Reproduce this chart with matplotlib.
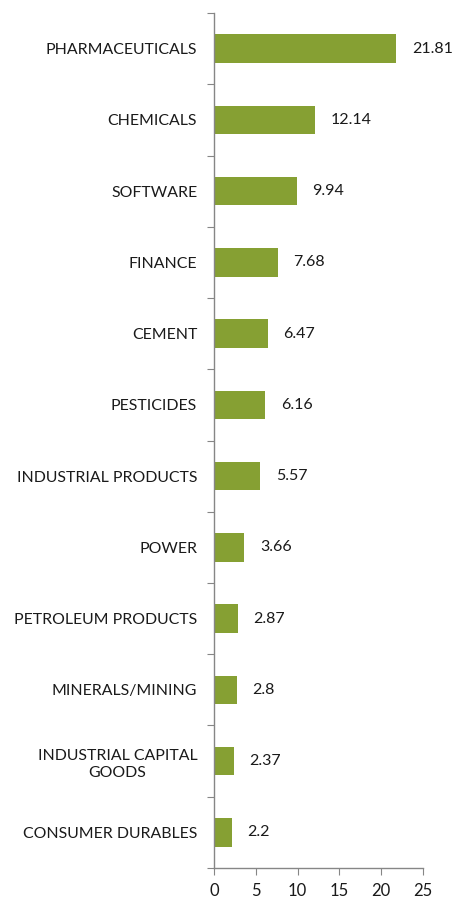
import numpy as np
import matplotlib.pyplot as plt

sectors = ["PHARMACEUTICALS", "CHEMICALS", "SOFTWARE", "FINANCE", "CEMENT",
           "PESTICIDES", "INDUSTRIAL PRODUCTS", "POWER", "PETROLEUM PRODUCTS",
           "MINERALS/MINING", "INDUSTRIAL CAPITAL\nGOODS", "CONSUMER DURABLES"]
values = [21.81, 12.14, 9.94, 7.68, 6.47, 6.16, 5.57, 3.66, 2.87, 2.8, 2.37, 2.2]
value_labels = ["21.81", "12.14", "9.94", "7.68", "6.47", "6.16", "5.57",
                "3.66", "2.87", "2.8", "2.37", "2.2"]

plt.rcParams['font.family'] = ['Lato', 'DejaVu Sans']

fig = plt.figure(figsize=(4.55, 8.99), dpi=100)
ax = fig.add_axes([0.470, 0.0345, 0.460, 0.951])

n = len(sectors)
ypos = np.arange(n)[::-1]
ax.barh(ypos, values, height=0.4, color="#86A033")

for y, v, lab in zip(ypos, values, value_labels):
    ax.annotate(lab, (v, y), xytext=(11, 0), textcoords="offset points",
                va="center", ha="left", fontsize=11.5, color="#1a1a1a")

ax.set_xlim(0, 25)
ax.set_ylim(-0.5, n - 0.5)
ax.set_xticks(range(0, 26, 5))
ax.set_yticks(np.arange(-0.5, n, 1.0))
ax.set_yticklabels([])
ax.set_yticks(ypos, minor=True)
ax.set_yticklabels(sectors, minor=True, fontsize=11.4, color="#1a1a1a",
                   multialignment="center", linespacing=1.35)

grey = "#868686"
for s in ["top", "right"]:
    ax.spines[s].set_visible(False)
for s in ["left", "bottom"]:
    ax.spines[s].set_color(grey)
    ax.spines[s].set_linewidth(1.0)

ax.tick_params(axis="y", which="major", length=5, color=grey, direction="out")
ax.tick_params(axis="y", which="minor", length=0, pad=12)
ax.tick_params(axis="x", length=5, color=grey, direction="out",
               labelsize=12, labelcolor="#1a1a1a", pad=6)

fig.savefig("out.png", dpi=100)
